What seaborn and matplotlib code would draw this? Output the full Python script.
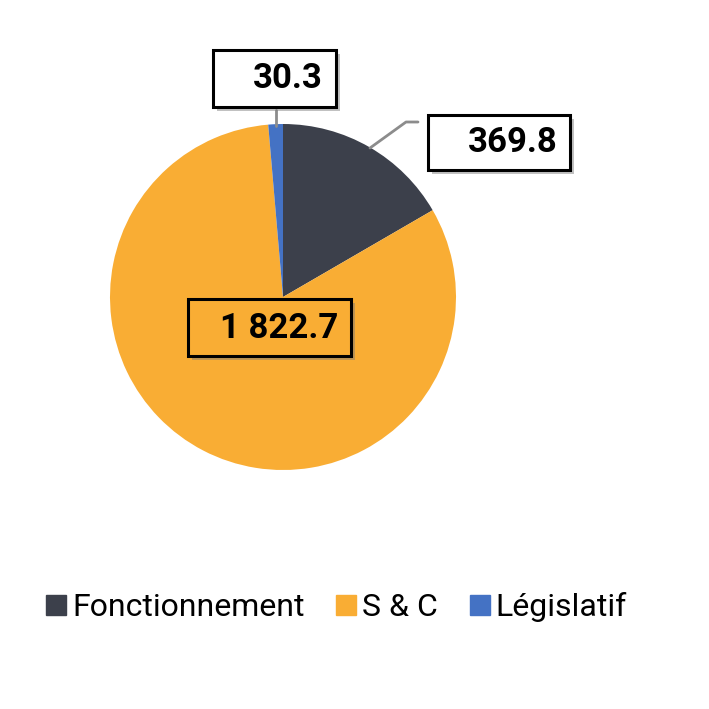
import matplotlib
matplotlib.use("Agg")
import matplotlib.pyplot as plt
import seaborn as sns
from matplotlib.patches import Rectangle
from matplotlib.lines import Line2D
import matplotlib.patheffects as pe

# data
categories = ["Fonctionnement", "S & C", "Législatif"]
values = [369.8, 1822.7, 30.3]
value_labels = ["369.8", "1 822.7", "30.3"]
colors = ["#3c404b", "#f9ad34", "#4472c4"]

sns.set_style("white")
plt.rcParams['font.family'] = ['Roboto', 'DejaVu Sans']

H = 709
fig = plt.figure(figsize=(7.09, 7.09), dpi=100)
ax = fig.add_axes([0, 0, 1, 1])

ax.pie(values, colors=colors, startangle=90, counterclock=False,
       center=(283, H - 297), radius=173, wedgeprops=dict(linewidth=0))
ax.set_xlim(0, H)
ax.set_ylim(0, H)
ax.set_aspect('equal')
ax.axis('off')

shadow = [pe.SimplePatchShadow(offset=(3, -3), shadow_rgbFace='#777777', alpha=0.45), pe.Normal()]

# label boxes: (x, y_top, w, h, text right, text center y, face)
boxes = {
    "369.8": (428, 115, 142, 55, 558, 142, "white"),
    "1 822.7": (188, 299, 163, 57, 338, 329, colors[1]),
    "30.3": (213, 50, 123, 57, 323, 79, "white"),
}
for lab in value_labels:
    x, yt, w, h, tx, ty, fc = boxes[lab]
    r = Rectangle((x, H - yt - h), w, h, facecolor=fc, edgecolor='black', lw=2.2, zorder=5)
    r.set_path_effects(shadow)
    ax.add_patch(r)
    ax.text(tx, H - ty, lab, ha='right', va='center', fontsize=25, fontweight='bold',
            color='black', zorder=6)

# leader lines
ax.plot([276, 276], [H - 110, H - 126], color='#8c8c8c', lw=2, zorder=4)
ax.plot([370, 406, 418], [H - 148, H - 122, H - 122], color='#8c8c8c', lw=2, zorder=4)

handles = [Line2D([], [], marker='s', ls='', color=c, markersize=15) for c in colors]
ax.legend(handles, categories, loc='center', bbox_to_anchor=(0.473, 1 - 607 / H),
          ncol=3, frameon=False, fontsize=23, handletextpad=0.1, columnspacing=0.9,
          handlelength=0.8, labelcolor='black')

fig.savefig("out.png", dpi=100)
